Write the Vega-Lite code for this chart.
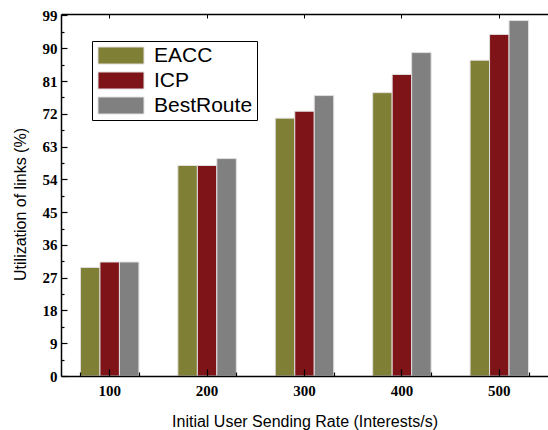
{
  "$schema": "https://vega.github.io/schema/vega-lite/v6.json",
  "width": 487,
  "height": 362,
  "autosize": {"type": "none"},
  "padding": {"left": 61, "top": 14, "right": 0, "bottom": 54},
  "background": "white",
  "config": {"view": {"stroke": null}},
  "data": {"values": [
    {"rate": "100", "method": "EACC", "value": 29.8},
    {"rate": "100", "method": "ICP", "value": 31.3},
    {"rate": "100", "method": "BestRoute", "value": 31.3},
    {"rate": "200", "method": "EACC", "value": 57.8},
    {"rate": "200", "method": "ICP", "value": 57.8},
    {"rate": "200", "method": "BestRoute", "value": 59.7},
    {"rate": "300", "method": "EACC", "value": 70.8},
    {"rate": "300", "method": "ICP", "value": 72.7},
    {"rate": "300", "method": "BestRoute", "value": 77},
    {"rate": "400", "method": "EACC", "value": 77.8},
    {"rate": "400", "method": "ICP", "value": 82.8},
    {"rate": "400", "method": "BestRoute", "value": 88.8},
    {"rate": "500", "method": "EACC", "value": 86.7},
    {"rate": "500", "method": "ICP", "value": 93.8},
    {"rate": "500", "method": "BestRoute", "value": 97.6}
  ]},
  "resolve": {"axis": {"x": "independent"}},
  "layer": [
    {
      "mark": {"type": "bar", "stroke": "#e2dede", "strokeWidth": 1},
      "encoding": {
        "x": {
          "field": "rate", "type": "ordinal",
          "scale": {"paddingInner": 0.4, "paddingOuter": 0.2},
          "axis": {
            "orient": "bottom", "zindex": 1,
            "title": "Initial User Sending Rate (Interests/s)",
            "titleFont": "Liberation Sans", "titleFontSize": 16, "titleFontWeight": "normal", "titleColor": "black",
            "titlePadding": 15,
            "labelFont": "Liberation Serif", "labelFontWeight": "bold", "labelFontSize": 15, "labelColor": "black",
            "labelAngle": 0, "labelPadding": 14,
            "domainColor": "black", "domainWidth": 1.5,
            "tickColor": "black", "tickSize": -7, "tickWidth": 1.2
          }
        },
        "xOffset": {"field": "method", "sort": ["EACC", "ICP", "BestRoute"]},
        "y": {
          "field": "value", "type": "quantitative",
          "scale": {"domain": [0, 99.4], "nice": false},
          "axis": {
            "zindex": 1,
            "title": "Utilization of links (%)",
            "titleFont": "Liberation Sans", "titleFontSize": 16, "titleFontWeight": "normal", "titleColor": "black",
            "titleY": 190,
            "titlePadding": 14,
            "values": [0, 4.5, 9, 13.5, 18, 22.5, 27, 31.5, 36, 40.5, 45, 49.5, 54, 58.5, 63, 67.5, 72, 76.5, 81, 85.5, 90, 94.5, 99],
            "labelExpr": "datum.value % 9 === 0 ? datum.label : ''",
            "labelFont": "Liberation Serif", "labelFontWeight": "bold", "labelFontSize": 15, "labelColor": "black",
            "labelPadding": 10,
            "grid": false,
            "domainColor": "black", "domainWidth": 1.5,
            "tickColor": "black", "tickWidth": 1.2,
            "tickSize": {"condition": {"test": "datum.value % 9 === 0", "value": -6}, "value": -3}
          }
        },
        "color": {
          "field": "method", "type": "nominal",
          "sort": ["EACC", "ICP", "BestRoute"],
          "scale": {"domain": ["EACC", "ICP", "BestRoute"], "range": ["#7f7f35", "#7f1418", "#808080"]},
          "legend": {
            "orient": "none", "legendX": 31, "legendY": 27,
            "title": null,
            "strokeColor": "black", "fillColor": "white", "padding": 4,
            "symbolType": "M-1,-1H4.41V1H-1Z", "symbolSize": 289,
            "symbolOpacity": 1, "symbolStrokeColor": "#e2dede", "symbolStrokeWidth": 1,
            "labelFont": "Liberation Sans", "labelFontSize": 21, "labelColor": "black",
            "labelOffset": 37, "rowPadding": 3
          }
        }
      }
    },
    {
      "mark": {"type": "bar", "opacity": 0},
      "encoding": {
        "x": {
          "field": "rate", "type": "ordinal",
          "axis": {
            "orient": "bottom", "zindex": 1, "title": null, "labels": false, "domain": false,
            "tickBand": "extent", "tickColor": "black", "tickSize": -4, "tickWidth": 1.2
          }
        }
      }
    },
    {
      "mark": {"type": "bar", "opacity": 0},
      "encoding": {
        "x": {
          "field": "rate", "type": "ordinal",
          "axis": {
            "orient": "top", "zindex": 1, "title": null, "labels": false,
            "domainColor": "black", "domainWidth": 1.5,
            "tickColor": "black", "tickSize": -4, "tickWidth": 1
          }
        }
      }
    }
  ]
}
